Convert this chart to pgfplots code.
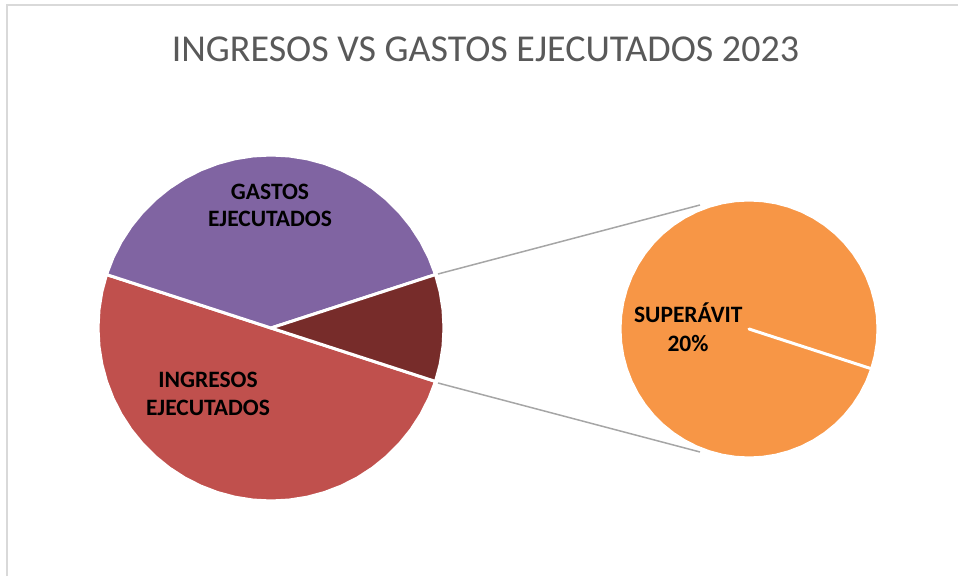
\documentclass[border=0pt]{standalone}
\usepackage{pgfplots}
\usepackage{pgfplotstable}
\pgfplotsset{compat=1.18}
\usepackage{fontspec}
\setmainfont{Carlito}
\definecolor{cPurple}{HTML}{8064A2}
\definecolor{cRed}{HTML}{C0504D}
\definecolor{cDark}{HTML}{772C2A}
\definecolor{cOrange}{HTML}{F79646}
\definecolor{cConn}{HTML}{A6A6A6}
\definecolor{cBorder}{HTML}{D9D9D9}
\definecolor{cTitle}{HTML}{595959}
% Shares of the first pie: Ingresos 50%, Gastos 40%, Superavit 10% (=36 deg)
% Sector outlines as (angle, radius factor)
\pgfplotstableread[row sep=\\]{a r\\ 0 0\\ 18 1\\ 24 1\\ 30 1\\ 36 1\\ 42 1\\ 48 1\\ 54 1\\ 60 1\\ 66 1\\ 72 1\\ 78 1\\ 84 1\\ 90 1\\ 96 1\\ 102 1\\ 108 1\\ 114 1\\ 120 1\\ 126 1\\ 132 1\\ 138 1\\ 144 1\\ 150 1\\ 156 1\\ 162 1\\ 0 0\\}\gastos
\pgfplotstableread[row sep=\\]{a r\\ 0 0\\ 162 1\\ 168 1\\ 174 1\\ 180 1\\ 186 1\\ 192 1\\ 198 1\\ 204 1\\ 210 1\\ 216 1\\ 222 1\\ 228 1\\ 234 1\\ 240 1\\ 246 1\\ 252 1\\ 258 1\\ 264 1\\ 270 1\\ 276 1\\ 282 1\\ 288 1\\ 294 1\\ 300 1\\ 306 1\\ 312 1\\ 318 1\\ 324 1\\ 330 1\\ 336 1\\ 342 1\\ 0 0\\}\ingresos
\pgfplotstableread[row sep=\\]{a r\\ 0 0\\ -18 1\\ -12 1\\ -6 1\\ 0 1\\ 6 1\\ 12 1\\ 18 1\\ 0 0\\}\superavit
\pgfplotstableread[row sep=\\]{a r\\ 0 0\\ -18 1\\ -12 1\\ -6 1\\ 0 1\\ 6 1\\ 12 1\\ 18 1\\ 24 1\\ 30 1\\ 36 1\\ 42 1\\ 48 1\\ 54 1\\ 60 1\\ 66 1\\ 72 1\\ 78 1\\ 84 1\\ 90 1\\ 96 1\\ 102 1\\ 108 1\\ 114 1\\ 120 1\\ 126 1\\ 132 1\\ 138 1\\ 144 1\\ 150 1\\ 156 1\\ 162 1\\ 168 1\\ 174 1\\ 180 1\\ 186 1\\ 192 1\\ 198 1\\ 204 1\\ 210 1\\ 216 1\\ 222 1\\ 228 1\\ 234 1\\ 240 1\\ 246 1\\ 252 1\\ 258 1\\ 264 1\\ 270 1\\ 276 1\\ 282 1\\ 288 1\\ 294 1\\ 300 1\\ 306 1\\ 312 1\\ 318 1\\ 324 1\\ 330 1\\ 336 1\\ 342 1\\ 0 0\\}\superavitfull
\begin{document}
\begin{tikzpicture}
\begin{axis}[
  scale only axis, width=958pt, height=576pt,
  xmin=0, xmax=958, ymin=0, ymax=576,
  axis lines=none, clip=false,
  every axis plot/.append style={no markers},
]
% chart border
\addplot[cBorder, line width=1.5pt] coordinates {(7,0) (7,571) (958,571)};
% first pie
\addplot[fill=cRed, draw=white, line width=3pt, line join=round]
  table[x expr={271+173*\thisrow{r}*cos(\thisrow{a})}, y expr={248+173*\thisrow{r}*sin(\thisrow{a})}] {\ingresos} -- cycle;
\addplot[fill=cPurple, draw=white, line width=3pt, line join=round]
  table[x expr={271+173*\thisrow{r}*cos(\thisrow{a})}, y expr={248+173*\thisrow{r}*sin(\thisrow{a})}] {\gastos} -- cycle;
\addplot[fill=cDark, draw=white, line width=3pt, line join=round]
  table[x expr={271+173*\thisrow{r}*cos(\thisrow{a})}, y expr={248+173*\thisrow{r}*sin(\thisrow{a})}] {\superavit} -- cycle;
% second pie
\addplot[fill=cOrange, draw=white, line width=3pt, line join=round]
  table[x expr={749+129*\thisrow{r}*cos(\thisrow{a})}, y expr={247+129*\thisrow{r}*sin(\thisrow{a})}] {\superavitfull} -- cycle;
% connector lines
\addplot[cConn, line width=1.5pt] coordinates {(438,302) (700,371)};
\addplot[cConn, line width=1.5pt] coordinates {(438,193) (700,124)};
% texts
\node[anchor=base, text=cTitle, font=\fontsize{38}{45}\selectfont] at (axis cs:485.5,514) {INGRESOS VS GASTOS EJECUTADOS 2023};
\node[anchor=base, font=\bfseries\fontsize{23.5}{28}\selectfont] at (axis cs:270,376) {GASTOS};
\node[anchor=base, font=\bfseries\fontsize{23.5}{28}\selectfont] at (axis cs:270,349) {EJECUTADOS};
\node[anchor=base, font=\bfseries\fontsize{23.5}{28}\selectfont] at (axis cs:208,188.7) {INGRESOS};
\node[anchor=base, font=\bfseries\fontsize{23.5}{28}\selectfont] at (axis cs:208,160.3) {EJECUTADOS};
\node[anchor=base, font=\bfseries\fontsize{23.5}{28}\selectfont] at (axis cs:688.3,253.3) {SUPERÁVIT};
\node[anchor=base, font=\bfseries\fontsize{23.5}{28}\selectfont] at (axis cs:688,224.3) {20\%};
\coordinate (SW) at (axis cs:0,0);
\coordinate (NE) at (axis cs:958,576);
\end{axis}
\pgfresetboundingbox
\useasboundingbox (SW) rectangle (NE);
\end{tikzpicture}
\end{document}
